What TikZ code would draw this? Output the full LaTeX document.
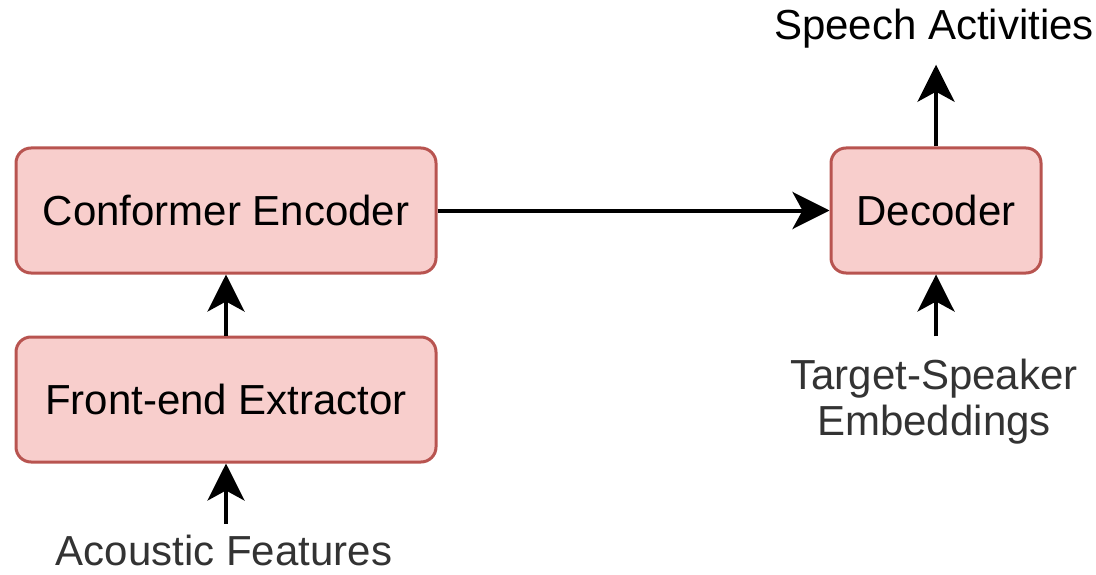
\documentclass[tikz,border=0pt]{standalone}
\usepackage{fontspec}
\setmainfont{Liberation Sans}
\usepackage{xcolor}
\usetikzlibrary{positioning,arrows.meta}

\begin{document}
\begin{tikzpicture}[x=0.5pt,y=0.5pt,
  block/.style={draw=blockDraw,fill=blockFill,line width=1.5pt,rounded corners=7.5pt,
    minimum height=62.5pt,font=\fontsize{21}{23}\selectfont,text=black},
  lbl/.style={inner sep=0pt,outer sep=0pt,align=center,font=\fontsize{21}{23}\selectfont},
  arr/.style={line width=2pt,-{Stealth[length=18.5pt,width=18.5pt,inset=5pt]}}]
\definecolor{blockFill}{RGB}{248,206,204}
\definecolor{blockDraw}{RGB}{184,84,80}
\definecolor{lblColor}{RGB}{51,51,51}
\path[use as bounding box] (0,0) rectangle (1096,574);

\node[block,minimum width=210pt] (encoder) at (226,363.5) {Conformer Encoder};
\node[block,minimum width=210pt,below=30.5pt of encoder] (frontend) {Front-end Extractor};
\node[block,minimum width=105pt,right=196pt of encoder] (decoder) {Decoder};

\node[lbl,text=lblColor,anchor=base] (acoustic) at (224,9) {Acoustic Features};
\node[lbl,text=black,anchor=base] (speech) at (934,534) {Speech Activities};
\node[lbl,text=lblColor] (target) at (934,172) {Target-Speaker\\Embeddings};

\draw[arr,shorten <=5.5pt] (frontend.south |- acoustic.north) -- (frontend.south);
\draw[arr] (frontend) -- (encoder);
\draw[arr] (encoder) -- (decoder);
\draw[arr,shorten >=8pt] (decoder.north) -- (decoder.north |- speech.south);
\draw[arr,shorten <=11.5pt] (decoder.south |- target.north) -- (decoder.south);
\end{tikzpicture}
\end{document}
